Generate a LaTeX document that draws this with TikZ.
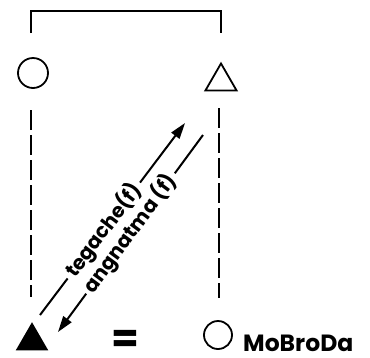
\documentclass[tikz,border=0pt]{standalone}
\usepackage{fontspec}
\setsansfont{Poppins}
\usetikzlibrary{arrows.meta,shapes.geometric}
\tikzset{
  kin/.style={draw=black,line width=1.8pt,inner sep=0pt},
  circ/.style={kin,circle,minimum size=30pt},
  tri/.style={kin,regular polygon,regular polygon sides=3,minimum size=36pt},
  bracket/.style={line width=2.8pt},
  descent/.style={line width=2.2pt,dash pattern=on 20pt off 5pt},
  termline/.style={line width=2pt},
  termarrow/.style={termline,-{Triangle[length=16pt,width=10pt]}},
  termlabel/.style={font=\sffamily\bfseries\fontsize{20}{20}\selectfont,inner xsep=4pt,inner ysep=0pt,sloped},
  endlabel/.style={font=\sffamily\bfseries\fontsize{23.5}{23.5}\selectfont,inner sep=0pt}
}
\begin{document}
\begin{tikzpicture}[x=1pt,y=-1pt]
\useasboundingbox (0,0) rectangle (370,357);
% symbols
\node[circ] (ego) at (33,73) {};
\node[tri] (bro) at (221,81.5) {};
\node[tri,fill=black,minimum size=34pt] (son) at (32,341) {};
\node[circ,minimum size=28pt] (mbd) at (218,335) {};
\node[font=\sffamily\bfseries\fontsize{40}{40}\selectfont,inner sep=0pt] (eq) at (125,341) {=};
\node[endlabel,anchor=base west] (lab) at (243,351) {MoBroDa};
% sibling bracket
\coordinate (bl) at (31,33);
\coordinate (br) at (221,33);
\draw[bracket] (bl) |- (221,11) -- (br);
% descent lines
\coordinate (dl1) at (31,110);
\coordinate (dl2) at (31,297);
\coordinate (dr1) at (219,108);
\coordinate (dr2) at (219,298);
\draw[descent] (dl1) -- (dl2);
\draw[descent] (dr1) -- (dr2);
% terms
\coordinate (a1s) at (40,315);
\coordinate (a1e) at (185,123);
\coordinate (a2s) at (203,135);
\coordinate (a2e) at (58,332);
\path (a1s) -- node[termlabel,pos=0.44] (t1) {tegache(f)} (a1e);
\path (a2s) -- node[termlabel,pos=0.50] (t2) {angnatma (f)} (a2e);
\draw[termline] (a1s) -- (t1.west);
\draw[termarrow] (t1.east) -- (a1e);
\draw[termline] (a2s) -- (t2.east);
\draw[termarrow] (t2.west) -- (a2e);
\end{tikzpicture}
\end{document}
